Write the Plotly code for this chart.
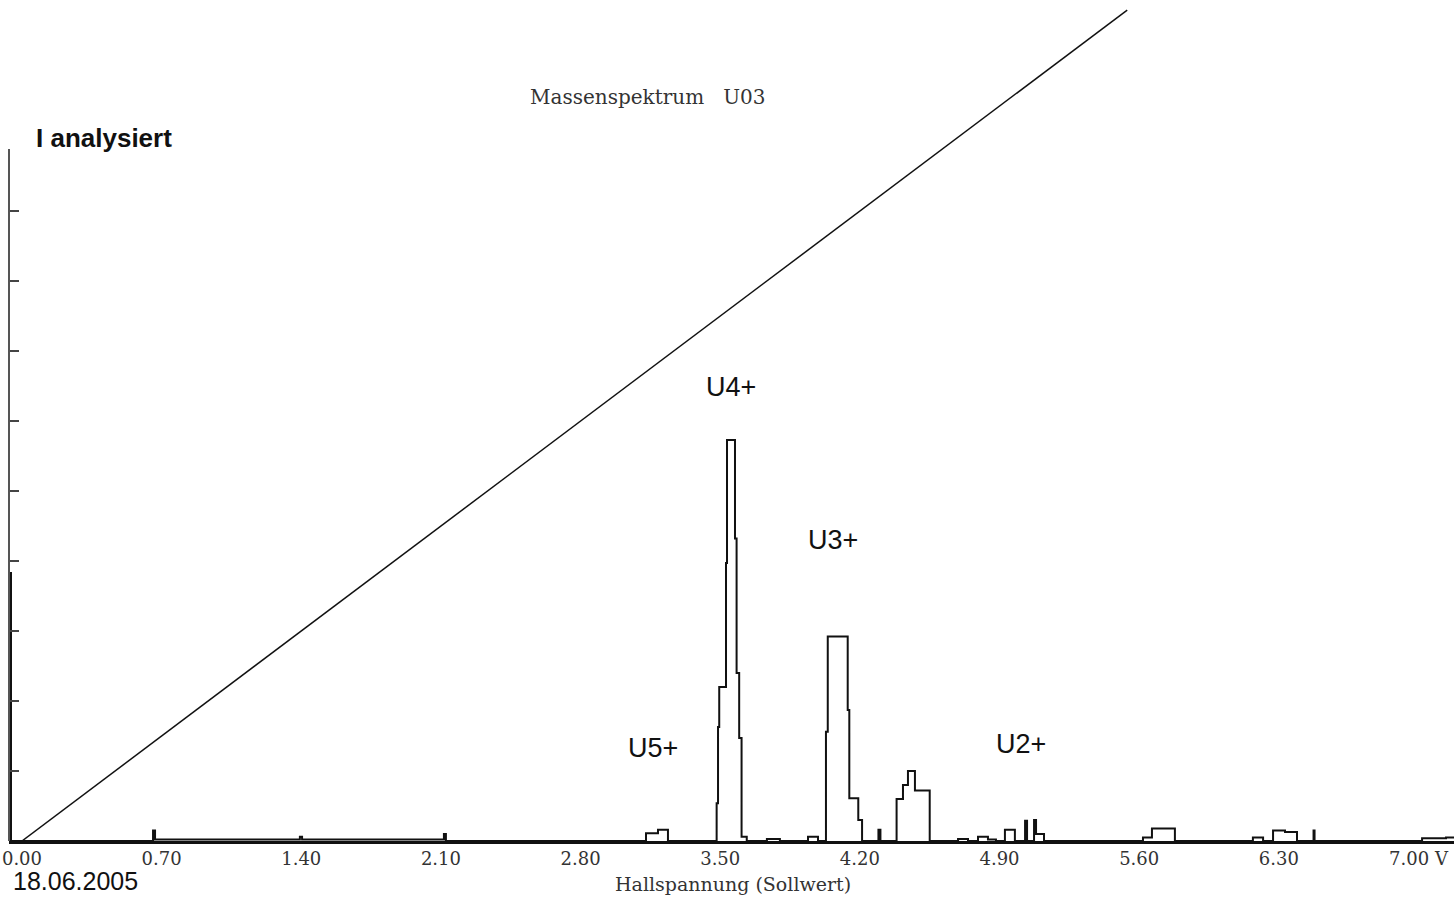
import plotly.graph_objects as go

# Sollwert ramp (Hallspannung setpoint)
ramp_x = [0.0, 5.54]
ramp_y = [0.0, 11.87]

# Mass spectrum (step trace): segment start positions and levels
spec_x = [-0.06, -0.055, 0.657, 0.667, 1.393, 1.404, 2.115, 2.125,
          3.128, 3.188, 3.238,
          3.482, 3.489, 3.495, 3.529, 3.534, 3.574, 3.582, 3.595, 3.607, 3.633,
          3.734, 3.799, 3.940, 3.990,
          4.030, 4.039, 4.139, 4.147, 4.192, 4.211,
          4.293, 4.303,
          4.384, 4.416, 4.441, 4.476, 4.550,
          4.692, 4.742, 4.792, 4.842, 4.882, 4.927, 4.977, 5.028, 5.038, 5.073, 5.083, 5.123,
          5.619, 5.664, 5.779,
          6.170, 6.221, 6.271, 6.331, 6.391, 6.474, 6.479,
          7.018, 7.138, 7.178]
spec_y = [3.83, 0.0, 0.15, 0.02, 0.06, 0.02, 0.10, 0.0,
          0.11, 0.16, 0.0,
          0.54, 1.63, 2.2, 3.97, 5.73, 4.32, 2.4, 1.47, 0.06, 0.0,
          0.03, 0.0, 0.06, 0.0,
          1.56, 2.92, 1.87, 0.61, 0.3, 0.0,
          0.16, 0.0,
          0.6, 0.8, 1.0, 0.72, 0.0,
          0.03, 0.0, 0.06, 0.02, 0.0, 0.16, 0.0, 0.29, 0.0, 0.3, 0.1, 0.0,
          0.05, 0.18, 0.0,
          0.05, 0.0, 0.15, 0.13, 0.0, 0.15, 0.0,
          0.04, 0.05, 0.05]

x_tickvals = [0.0, 0.7, 1.4, 2.1, 2.8, 3.5, 4.2, 4.9, 5.6, 6.3, 7.0]
x_ticktext = ["0.00", "0.70", "1.40", "2.10", "2.80", "3.50", "4.20",
              "4.90", "5.60", "6.30", "7.00 V"]
y_tickvals = [1, 2, 3, 4, 5, 6, 7, 8, 9]

peak_labels = ["U5+", "U4+", "U3+", "U2+"]
peak_label_pos = [(0.4457, 0.1106), (0.4997, 0.5398), (0.5702, 0.3579), (0.7003, 0.1153)]

fig = go.Figure()
fig.add_trace(go.Scatter(x=ramp_x, y=ramp_y, mode="lines",
                         line=dict(color="#111111", width=1.5),
                         hoverinfo="skip", showlegend=False))
fig.add_trace(go.Scatter(x=spec_x, y=spec_y, mode="lines",
                         line=dict(color="#111111", width=2, shape="hv"),
                         showlegend=False))

serif = "DejaVu Serif"
sans = "Liberation Sans"

annotations = [
    dict(text="Massenspektrum   U03", x=0.4422, y=0.8847, xref="paper", yref="paper",
         showarrow=False, xanchor="center", yanchor="middle",
         font=dict(family=serif, size=20, color="#333333")),
    dict(text="I analysiert", x=0.0657, y=0.8359, xref="paper", yref="paper",
         showarrow=False, xanchor="center", yanchor="middle",
         font=dict(family=sans, size=26, color="#111111", weight="bold")),
    dict(text="18.06.2005", x=0.0457, y=-0.0476, xref="paper", yref="paper",
         showarrow=False, xanchor="center", yanchor="middle",
         font=dict(family=sans, size=25, color="#111111")),
    dict(text="Hallspannung (Sollwert)", x=0.5010, y=-0.0511, xref="paper", yref="paper",
         showarrow=False, xanchor="center", yanchor="middle",
         font=dict(family=serif, size=19, color="#333333")),
]
for lab, (px, py) in zip(peak_labels, peak_label_pos):
    annotations.append(dict(text=lab, x=px, y=py, xref="paper", yref="paper",
                            showarrow=False, xanchor="center", yanchor="middle",
                            font=dict(family=sans, size=27, color="#111111")))

fig.update_layout(
    width=1454, height=899,
    margin=dict(l=9, r=0, t=0, b=58),
    paper_bgcolor="white", plot_bgcolor="white",
    xaxis=dict(range=[-0.065, 7.178], showgrid=False, zeroline=False,
               showline=True, linecolor="#111111", linewidth=2.5,
               ticks="", tickvals=x_tickvals, ticktext=x_ticktext,
               ticklabeloverflow="allow",
               tickfont=dict(family=serif, size=18, color="#333333")),
    yaxis=dict(range=[0, 12.014], showgrid=False, zeroline=False, showline=False,
               ticks="inside", ticklen=10, tickwidth=2, tickcolor="#444444",
               tickvals=y_tickvals, showticklabels=False),
    shapes=[dict(type="line", xref="paper", yref="y", x0=0, x1=0, y0=0, y1=9.886,
                 line=dict(color="#555555", width=2))],
    annotations=annotations,
)

fig.write_html(
    "out.html",
    config={"displayModeBar": False},
    post_script="document.body.style.margin='0';document.body.style.overflow='hidden';",
)
